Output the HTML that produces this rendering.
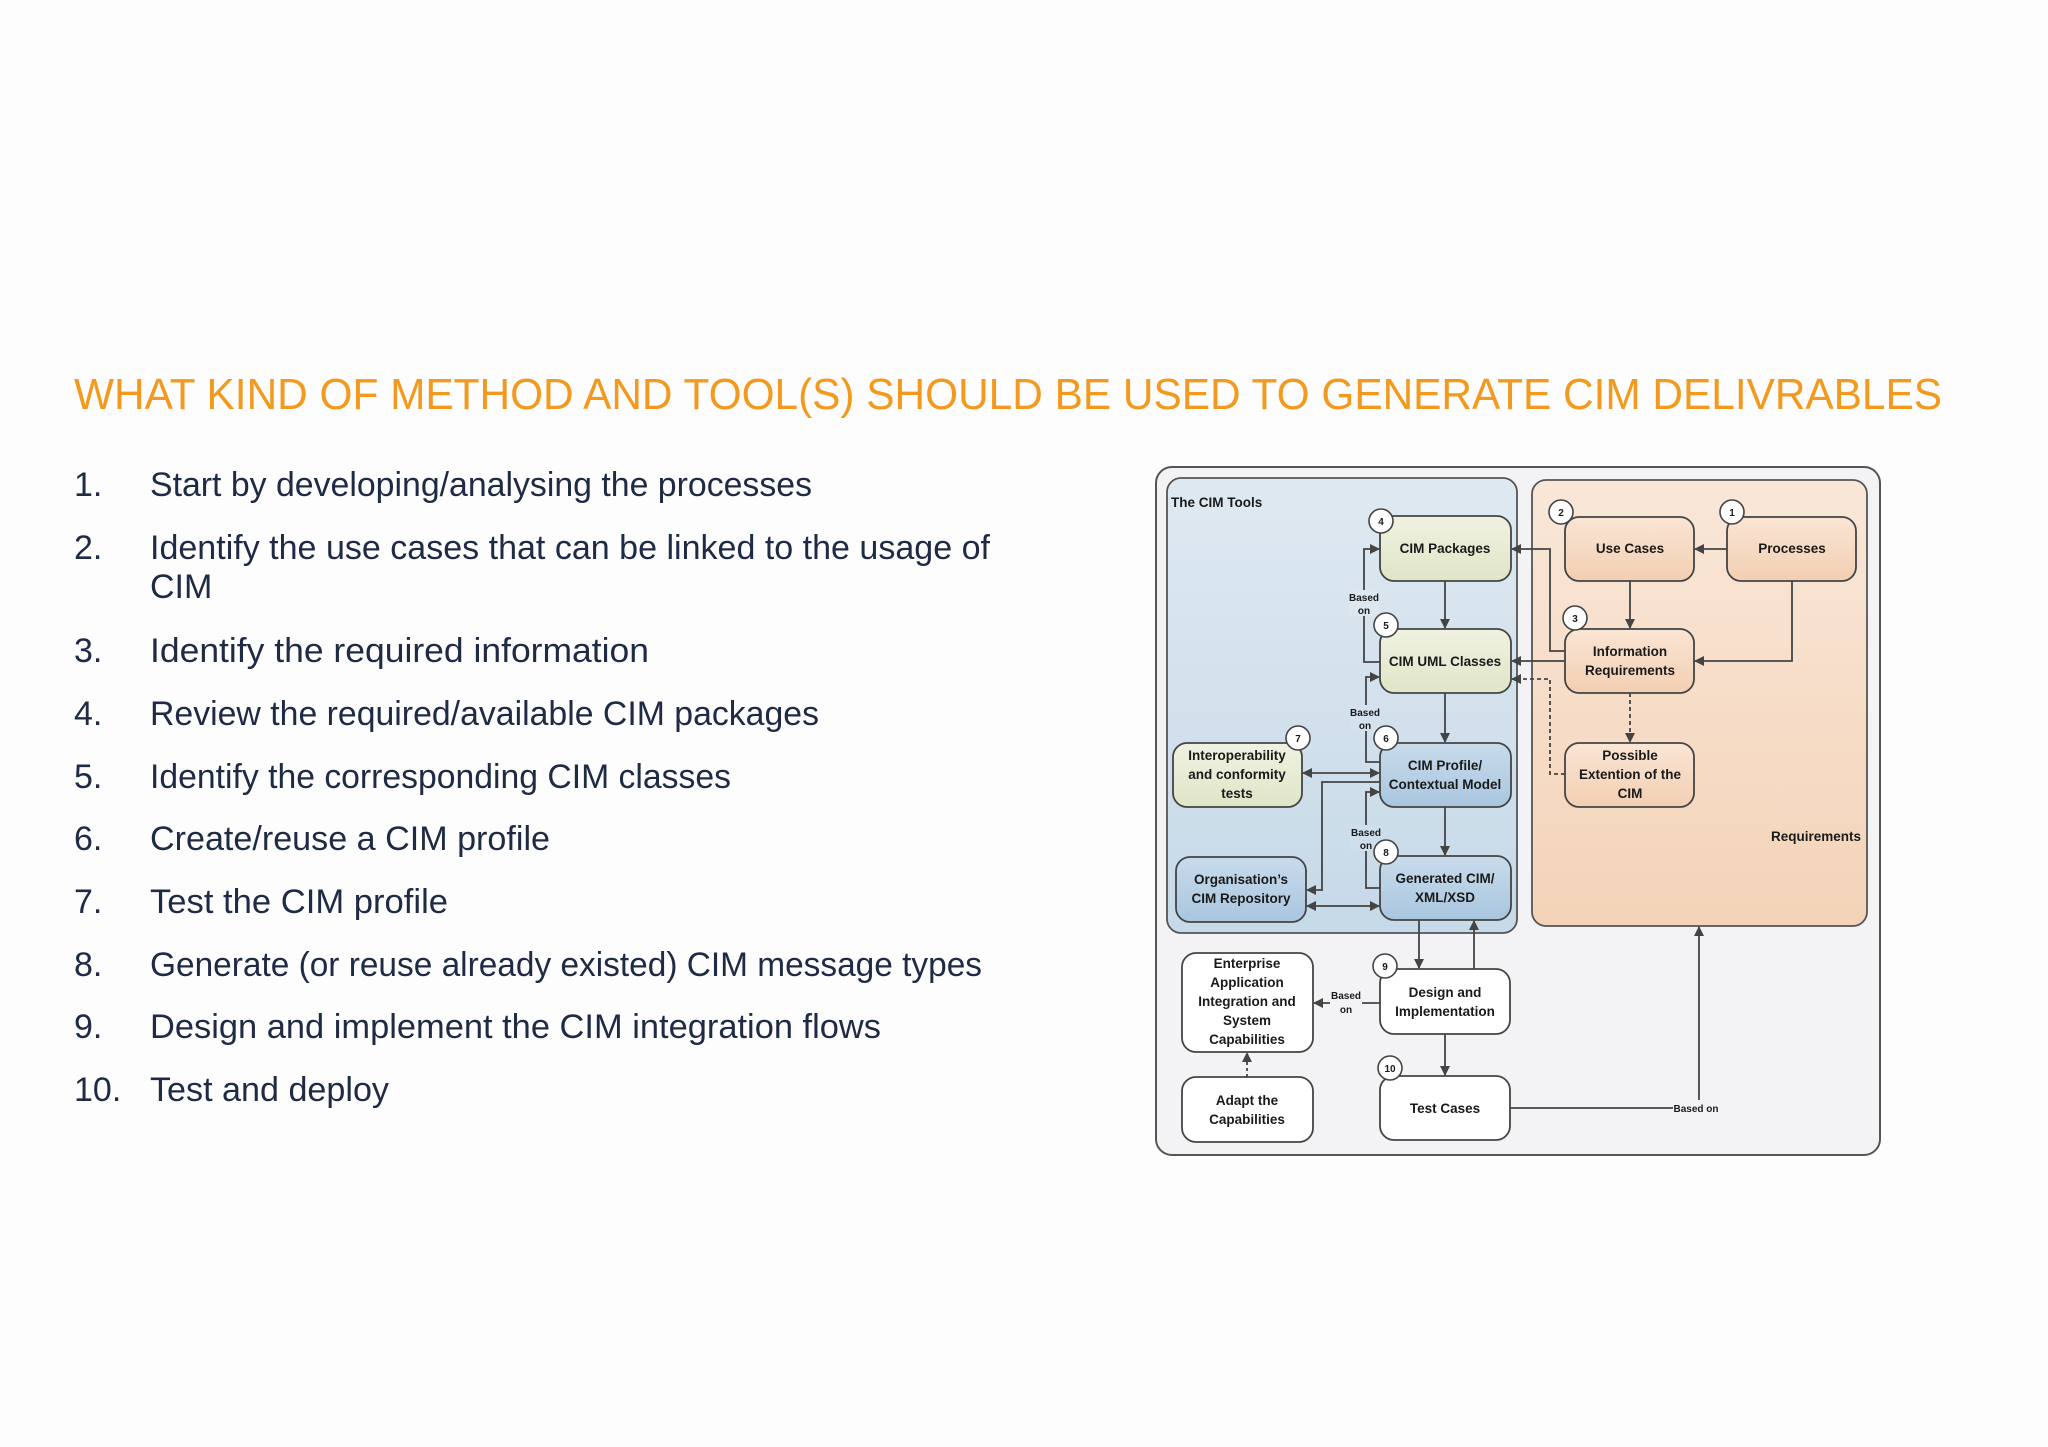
<!DOCTYPE html>
<html><head><meta charset="utf-8"><style>
html,body{margin:0;padding:0;background:#fdfdfd;}
svg{display:block;}
.t{font-family:"Liberation Sans",sans-serif;fill:#1f2a44;font-size:34px;}
.d{font-family:"Liberation Sans",sans-serif;font-weight:bold;font-size:13.5px;fill:#1a1a1a;text-anchor:middle;}
.s{font-family:"Liberation Sans",sans-serif;font-weight:bold;font-size:10px;fill:#1a1a1a;text-anchor:middle;}
.ln{stroke:#444;stroke-width:1.8;fill:none;}
.bx{stroke:#444;stroke-width:1.8;}
</style></head><body>
<svg width="2048" height="1447" viewBox="0 0 2048 1447" xmlns="http://www.w3.org/2000/svg">
<defs>
<marker id="a" markerWidth="10" markerHeight="10" refX="9" refY="5" orient="auto-start-reverse" markerUnits="userSpaceOnUse"><path d="M0,0 L10,5 L0,10 Z" fill="#444"/></marker>
<linearGradient id="gb" x1="0" y1="0" x2="0" y2="1"><stop offset="0" stop-color="#dfe9f1"/><stop offset="1" stop-color="#c6d9e8"/></linearGradient>
<linearGradient id="go" x1="0" y1="0" x2="0" y2="1"><stop offset="0" stop-color="#f9e7d8"/><stop offset="1" stop-color="#f4d3b8"/></linearGradient>
<linearGradient id="gg" x1="0" y1="0" x2="0" y2="1"><stop offset="0" stop-color="#f0f2e2"/><stop offset="1" stop-color="#dfe5c7"/></linearGradient>
<linearGradient id="gbb" x1="0" y1="0" x2="0" y2="1"><stop offset="0" stop-color="#c8dbeb"/><stop offset="1" stop-color="#a9c6df"/></linearGradient>
<linearGradient id="gob" x1="0" y1="0" x2="0" y2="1"><stop offset="0" stop-color="#fae5d4"/><stop offset="1" stop-color="#f2cfb3"/></linearGradient>
</defs>
<rect width="2048" height="1447" fill="#fdfdfd"/>
<text x="74" y="409" font-family="Liberation Sans,sans-serif" font-size="44" fill="#f39a1e" textLength="1868" lengthAdjust="spacingAndGlyphs">WHAT KIND OF METHOD AND TOOL(S) SHOULD BE USED TO GENERATE CIM DELIVRABLES</text>
<g class="t">
<text x="74" y="496">1.</text><text x="150" y="496" textLength="662" lengthAdjust="spacingAndGlyphs">Start by developing/analysing the processes</text>
<text x="74" y="559">2.</text><text x="150" y="559" textLength="840" lengthAdjust="spacingAndGlyphs">Identify the use cases that can be linked to the usage of</text>
<text x="150" y="598">CIM</text>
<text x="74" y="662">3.</text><text x="150" y="662" textLength="499" lengthAdjust="spacingAndGlyphs">Identify the required information</text>
<text x="74" y="725">4.</text><text x="150" y="725" textLength="669" lengthAdjust="spacingAndGlyphs">Review the required/available CIM packages</text>
<text x="74" y="788">5.</text><text x="150" y="788" textLength="581" lengthAdjust="spacingAndGlyphs">Identify the corresponding CIM classes</text>
<text x="74" y="850">6.</text><text x="150" y="850" textLength="400" lengthAdjust="spacingAndGlyphs">Create/reuse a CIM profile</text>
<text x="74" y="913">7.</text><text x="150" y="913" textLength="298" lengthAdjust="spacingAndGlyphs">Test the CIM profile</text>
<text x="74" y="976">8.</text><text x="150" y="976" textLength="832" lengthAdjust="spacingAndGlyphs">Generate (or reuse already existed) CIM message types</text>
<text x="74" y="1038">9.</text><text x="150" y="1038" textLength="731" lengthAdjust="spacingAndGlyphs">Design and implement the CIM integration flows</text>
<text x="74" y="1101">10.</text><text x="150" y="1101" textLength="239" lengthAdjust="spacingAndGlyphs">Test and deploy</text>
</g>

<!-- diagram frame -->
<rect x="1156" y="467" width="724" height="688" rx="16" fill="#f3f3f5" stroke="#555" stroke-width="2"/>
<rect x="1167" y="478" width="350" height="455" rx="14" fill="url(#gb)" stroke="#555" stroke-width="1.8"/>
<rect x="1532" y="480" width="335" height="446" rx="14" fill="url(#go)" stroke="#555" stroke-width="1.8"/>
<text x="1171" y="507" font-family="Liberation Sans,sans-serif" font-weight="bold" font-size="13.5" fill="#1a1a1a">The CIM Tools</text>
<text x="1861" y="841" font-family="Liberation Sans,sans-serif" font-weight="bold" font-size="13.5" fill="#1a1a1a" text-anchor="end">Requirements</text>

<!-- connectors -->
<g class="ln">
<line x1="1445" y1="581" x2="1445" y2="628" marker-end="url(#a)"/>
<line x1="1445" y1="693" x2="1445" y2="742" marker-end="url(#a)"/>
<line x1="1445" y1="807" x2="1445" y2="855" marker-end="url(#a)"/>
<polyline points="1380,662 1364,662 1364,549 1379,549" marker-end="url(#a)"/>
<polyline points="1380,762 1366,762 1366,677 1379,677" marker-end="url(#a)"/>
<polyline points="1380,888 1366,888 1366,792 1379,792" marker-end="url(#a)"/>
<line x1="1303" y1="773" x2="1379" y2="773" marker-start="url(#a)" marker-end="url(#a)"/>
<polyline points="1380,782 1322,782 1322,890 1307,890" marker-end="url(#a)"/>
<line x1="1307" y1="906" x2="1379" y2="906" marker-start="url(#a)" marker-end="url(#a)"/>
<line x1="1727" y1="549" x2="1695" y2="549" marker-end="url(#a)"/>
<line x1="1630" y1="581" x2="1630" y2="628" marker-end="url(#a)"/>
<polyline points="1792,581 1792,661 1695,661" marker-end="url(#a)"/>
<line x1="1565" y1="661" x2="1512" y2="661" marker-end="url(#a)"/>
<polyline points="1565,651 1550,651 1550,549 1512,549" marker-end="url(#a)"/>
<line x1="1630" y1="693" x2="1630" y2="742" stroke-dasharray="4,3" marker-end="url(#a)"/>
<polyline points="1565,774 1550,774 1550,679 1512,679" stroke-dasharray="4,3" marker-end="url(#a)"/>
<line x1="1419" y1="920" x2="1419" y2="968" marker-end="url(#a)"/>
<line x1="1474" y1="969" x2="1474" y2="921" marker-end="url(#a)"/>
<line x1="1380" y1="1003" x2="1314" y2="1003" marker-end="url(#a)"/>
<line x1="1445" y1="1034" x2="1445" y2="1075" marker-end="url(#a)"/>
<line x1="1247" y1="1077" x2="1247" y2="1053" stroke-dasharray="3,3" marker-end="url(#a)"/>
<polyline points="1510,1108 1699,1108 1699,927" marker-end="url(#a)"/>
</g>
<!-- based on labels -->
<rect x="1349" y="590" width="30" height="26" fill="#dce7f0"/>
<text class="s" x="1364" y="601">Based</text><text class="s" x="1364" y="614">on</text>
<rect x="1350" y="705" width="30" height="26" fill="#d5e2ee"/>
<text class="s" x="1365" y="716">Based</text><text class="s" x="1365" y="729">on</text>
<rect x="1350" y="825" width="30" height="26" fill="#cfdeeb"/>
<text class="s" x="1366" y="836">Based</text><text class="s" x="1366" y="849">on</text>
<rect x="1330" y="988" width="32" height="28" fill="#f3f3f5"/>
<text class="s" x="1346" y="999">Based</text><text class="s" x="1346" y="1013">on</text>
<rect x="1673" y="1100" width="46" height="15" fill="#f3f3f5"/>
<text class="s" x="1696" y="1112">Based on</text>

<!-- boxes -->
<g class="bx">
<rect x="1380" y="516" width="131" height="65" rx="14" fill="url(#gg)"/>
<rect x="1380" y="629" width="131" height="64" rx="14" fill="url(#gg)"/>
<rect x="1380" y="743" width="131" height="64" rx="14" fill="url(#gbb)"/>
<rect x="1380" y="856" width="131" height="64" rx="14" fill="url(#gbb)"/>
<rect x="1173" y="743" width="129" height="64" rx="14" fill="url(#gg)"/>
<rect x="1176" y="857" width="130" height="65" rx="14" fill="url(#gbb)"/>
<rect x="1565" y="517" width="129" height="64" rx="14" fill="url(#gob)"/>
<rect x="1727" y="517" width="129" height="64" rx="14" fill="url(#gob)"/>
<rect x="1565" y="629" width="129" height="64" rx="14" fill="url(#gob)"/>
<rect x="1565" y="743" width="129" height="64" rx="14" fill="url(#gob)"/>
<rect x="1182" y="953" width="131" height="99" rx="14" fill="#fff"/>
<rect x="1182" y="1077" width="131" height="65" rx="14" fill="#fff"/>
<rect x="1380" y="969" width="130" height="65" rx="14" fill="#fff"/>
<rect x="1380" y="1076" width="130" height="64" rx="14" fill="#fff"/>
</g>
<g class="d">
<text x="1445" y="553">CIM Packages</text>
<text x="1445" y="666">CIM UML Classes</text>
<text x="1445" y="770">CIM Profile/</text><text x="1445" y="789">Contextual Model</text>
<text x="1445" y="883">Generated CIM/</text><text x="1445" y="902">XML/XSD</text>
<text x="1237" y="760">Interoperability</text><text x="1237" y="779">and conformity</text><text x="1237" y="798">tests</text>
<text x="1241" y="884">Organisation’s</text><text x="1241" y="903">CIM Repository</text>
<text x="1630" y="553">Use Cases</text>
<text x="1792" y="553">Processes</text>
<text x="1630" y="656">Information</text><text x="1630" y="675">Requirements</text>
<text x="1630" y="760">Possible</text><text x="1630" y="779">Extention of the</text><text x="1630" y="798">CIM</text>
<text x="1247" y="968">Enterprise</text><text x="1247" y="987">Application</text><text x="1247" y="1006">Integration and</text><text x="1247" y="1025">System</text><text x="1247" y="1044">Capabilities</text>
<text x="1247" y="1105">Adapt the</text><text x="1247" y="1124">Capabilities</text>
<text x="1445" y="997">Design and</text><text x="1445" y="1016">Implementation</text>
<text x="1445" y="1113">Test Cases</text>
</g>
<!-- badges -->
<g>
<circle cx="1381" cy="521" r="12" fill="#fff" stroke="#444" stroke-width="1.6"/><text class="s" x="1381" y="525">4</text>
<circle cx="1386" cy="625" r="12" fill="#fff" stroke="#444" stroke-width="1.6"/><text class="s" x="1386" y="629">5</text>
<circle cx="1386" cy="738" r="12" fill="#fff" stroke="#444" stroke-width="1.6"/><text class="s" x="1386" y="742">6</text>
<circle cx="1298" cy="738" r="12" fill="#fff" stroke="#444" stroke-width="1.6"/><text class="s" x="1298" y="742">7</text>
<circle cx="1386" cy="852" r="12" fill="#fff" stroke="#444" stroke-width="1.6"/><text class="s" x="1386" y="856">8</text>
<circle cx="1561" cy="512" r="12" fill="#fff" stroke="#444" stroke-width="1.6"/><text class="s" x="1561" y="516">2</text>
<circle cx="1732" cy="512" r="12" fill="#fff" stroke="#444" stroke-width="1.6"/><text class="s" x="1732" y="516">1</text>
<circle cx="1575" cy="618" r="12" fill="#fff" stroke="#444" stroke-width="1.6"/><text class="s" x="1575" y="622">3</text>
<circle cx="1385" cy="966" r="12" fill="#fff" stroke="#444" stroke-width="1.6"/><text class="s" x="1385" y="970">9</text>
<circle cx="1390" cy="1068" r="12" fill="#fff" stroke="#444" stroke-width="1.6"/><text class="s" x="1390" y="1072">10</text>
</g>
</svg>
</body></html>
